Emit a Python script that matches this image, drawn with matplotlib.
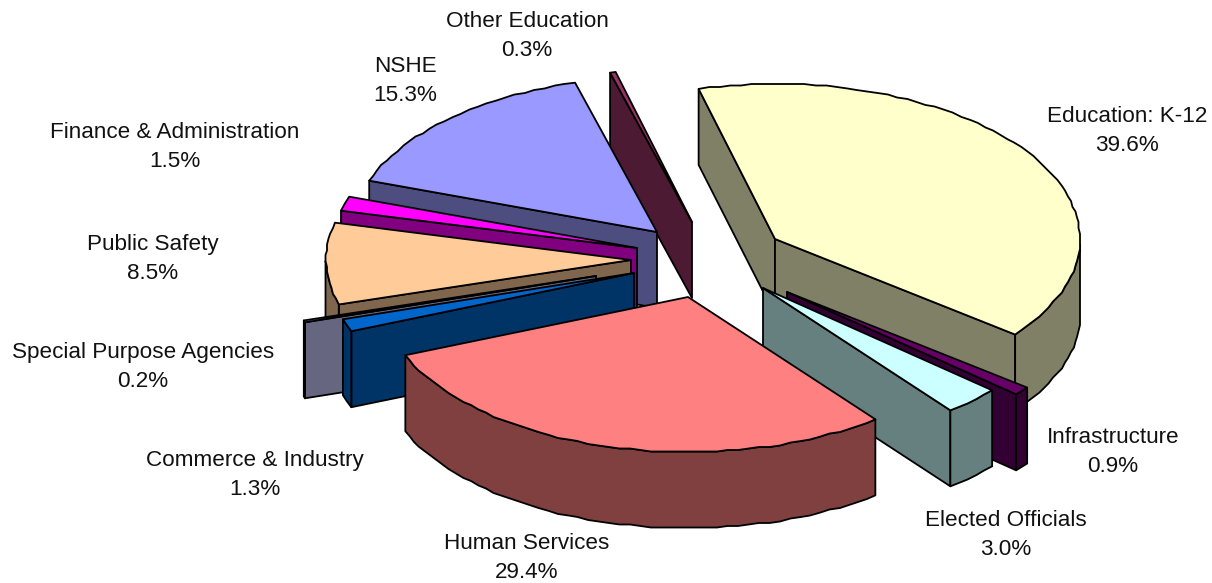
import numpy as np
import matplotlib
matplotlib.use('agg')
import matplotlib.pyplot as plt
from matplotlib.patches import Polygon

plt.rcParams['font.family'] = ['Liberation Sans', 'DejaVu Sans']

# = = = = = = = = = = =
# data, clockwise from the start angle

categories = ['Education: K-12', 'Infrastructure', 'Elected Officials', 'Human Services',
              'Commerce & Industry', 'Special Purpose Agencies', 'Public Safety',
              'Finance & Administration', 'NSHE', 'Other Education']
shares = [39.6, 0.9, 3.0, 29.4, 1.3, 0.2, 8.5, 1.5, 15.3, 0.3]

# = = = = = = = = = = =
# styles and layout

top_colors = ['#FFFFCC', '#660066', '#CCFFFF', '#FF8080', '#0066CC',
              '#CCCCFF', '#FFCC99', '#FF00FF', '#9999FF', '#993366']
side_colors = ['#808066', '#330033', '#668080', '#804040', '#003366',
               '#666680', '#80664D', '#800080', '#4D4D80', '#4D1A33']

start_angle = 104.5
rx, ry, depth = 305, 155, 76

# where each exploded slice has its tip, figure pixels
explode_x = [775, 787, 763, 688, 634, 596, 631, 637, 657, 692]
explode_y = [239, 292, 288, 297, 273, 276, 260, 248, 232, 222]

draw_order = [9, 8, 7, 6, 5, 4, 0, 1, 2, 3]

label_x = [1127, 1113, 1006, 527, 255, 143, 153, 175, 405, 527]
label_y = [131, 452, 535, 558, 475, 367, 259, 147, 81, 36]

# = = = = = = = = = = =

def arc_points(cx, cy, a1, a2):
    n = max(2, int(abs(a2 - a1) / 2) + 1)
    angles = np.radians(np.linspace(a1, a2, n))
    pts = np.column_stack((cx + rx * np.cos(angles), cy - ry * np.sin(angles)))
    # the rim of the original is a coarse polyline, keep the little steps
    if n > 4:
        pts[1:-1] = np.round(pts[1:-1] / 1.5) * 1.5
    return pts, angles


def poly(ax, pts, color):
    ax.add_patch(Polygon(pts, closed=True, facecolor=color, edgecolor='black',
                         linewidth=1.3, joinstyle='round'))


def draw_slice(ax, cx, cy, a1, a2, top, side):
    arc, angles = arc_points(cx, cy, a1, a2)
    apex = np.array([cx, cy])
    down = np.array([0, depth])

    # radial walls, only those turned to the viewer
    if np.cos(np.radians(a1)) < 0:
        poly(ax, [apex, arc[0], arc[0] + down, apex + down], side)
    if np.cos(np.radians(a2)) > 0:
        poly(ax, [apex, arc[-1], arc[-1] + down, apex + down], side)

    # same for the rim
    front = np.sin(angles) <= 0
    if front.sum() > 1:
        rim = arc[front]
        poly(ax, np.vstack((rim, rim[::-1] + down)), side)

    poly(ax, np.vstack((apex, arc)), top)


fig = plt.figure(figsize=(12.12, 5.83), dpi=100)
ax = fig.add_axes([0, 0, 1, 1])
ax.set_xlim(0, 1212)
ax.set_ylim(583, 0)
ax.axis('off')

sweep = np.array(shares) / sum(shares) * 360
ends = start_angle - np.cumsum(sweep)
starts = ends + sweep

for i in draw_order:
    draw_slice(ax, explode_x[i], explode_y[i], starts[i], ends[i], top_colors[i], side_colors[i])

for i, name in enumerate(categories):
    ax.text(label_x[i], label_y[i], '%s\n%.1f%%' % (name, shares[i]), ha='center', va='center',
            fontsize=16.2, linespacing=1.44, color='#111111')

fig.savefig('out.png', dpi=100)
